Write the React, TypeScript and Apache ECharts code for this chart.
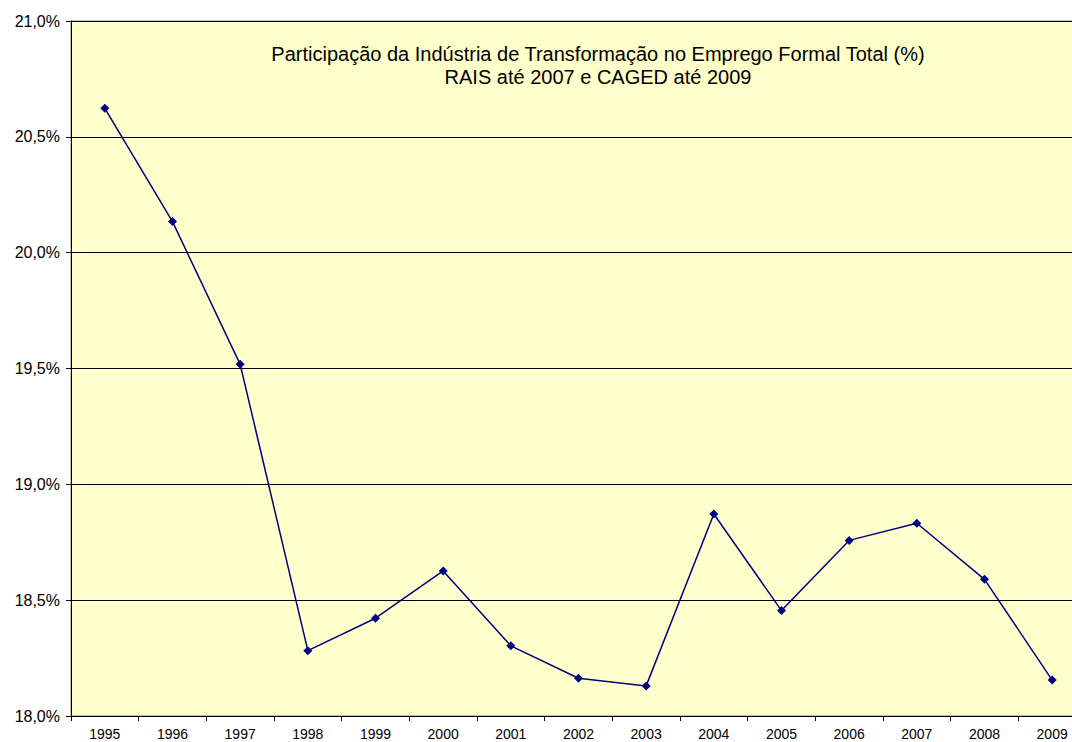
import React, { useEffect, useRef } from "react";
import * as echarts from "echarts";

const years = ["1995","1996","1997","1998","1999","2000","2001","2002","2003","2004","2005","2006","2007","2008","2009"];
const share = [20.623, 20.134, 19.518, 18.282, 18.422, 18.626, 18.303, 18.163, 18.130, 18.872, 18.455, 18.758, 18.832, 18.590, 18.155];
const titleLines = [
  "Participação da Indústria de Transformação no Emprego Formal Total (%)",
  "RAIS até 2007 e CAGED até 2009",
];

export default function App() {
  const ref = useRef<HTMLDivElement>(null);
  useEffect(() => {
    if (!ref.current) return;
    const chart = echarts.init(ref.current, undefined, { renderer: "svg" });
    chart.setOption({
      animation: false,
      backgroundColor: "#ffffff",
      title: {
        text: titleLines.join("\n"),
        left: 593,
        top: 37,
        textAlign: "center",
        textStyle: {
          fontFamily: "Liberation Sans, Arial, sans-serif",
          fontSize: 20,
          fontWeight: "normal",
          color: "#000000",
          lineHeight: 23,
        },
      },
      grid: {
        left: 71,
        top: 21,
        width: 1015,
        height: 695,
        outerBoundsMode: "none",
        containLabel: false,
        show: true,
        backgroundColor: "#FFFFCC",
        borderColor: "#808080",
        borderWidth: 1,
      },
      xAxis: {
        type: "category",
        data: years,
        boundaryGap: true,
        axisLine: { lineStyle: { color: "#000000", width: 1 } },
        axisTick: { show: true, inside: false, length: 5, alignWithLabel: false, lineStyle: { color: "#000000" } },
        axisLabel: {
          fontFamily: "Liberation Sans, Arial, sans-serif",
          fontSize: 14,
          lineHeight: 14,
          color: "#000000",
          margin: 11,
          interval: 0,
        },
        splitLine: { show: false },
      },
      yAxis: {
        type: "value",
        min: 18,
        max: 21,
        interval: 0.5,
        axisLine: { show: true, lineStyle: { color: "#000000", width: 1 } },
        axisTick: { show: true, inside: false, length: 5, lineStyle: { color: "#000000" } },
        axisLabel: {
          fontFamily: "Liberation Sans, Arial, sans-serif",
          fontSize: 16,
          color: "#000000",
          margin: 11,
          formatter: (v: number) => v.toFixed(1).replace(".", ",") + "%",
        },
        splitLine: { show: true, lineStyle: { color: "#000000", width: 1 } },
      },
      series: [
        {
          type: "line",
          data: share,
          symbol: "diamond",
          symbolSize: 9,
          lineStyle: { color: "#000080", width: 1.5 },
          itemStyle: { color: "#000080" },
        },
      ],
    });
    return () => chart.dispose();
  }, []);
  return (
    <div
      style={{ position: "fixed", left: 0, top: 0, width: 1072, height: 742, overflow: "hidden", background: "#ffffff" }}
    >
      <div ref={ref} style={{ width: 1100, height: 742 }} />
    </div>
  );
}
